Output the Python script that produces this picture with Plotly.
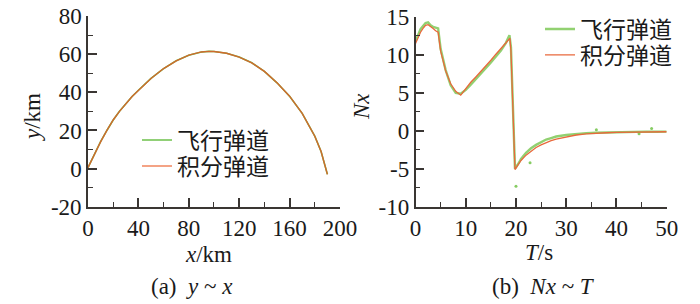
import plotly.graph_objects as go

# ---------- Panel (a): y ~ x ----------
x_km = [0, 5, 10, 15, 20, 25, 30, 35, 40, 45, 50, 60, 70, 80, 90, 96, 100, 110, 120, 130, 140, 150, 160, 170, 180, 185, 190]
y_int = [0.5, 7.5, 14.0, 20.0, 25.5, 30.0, 34.0, 37.8, 41.0, 44.3, 47.3, 52.5, 56.5, 59.5, 61.2, 61.5, 61.4, 60.5, 58.5, 55.5, 51.0, 45.0, 38.0, 29.0, 17.0, 9.0, -3.0]
y_fly = [0.5, 7.6, 14.1, 20.0, 25.5, 30.1, 34.0, 37.8, 41.1, 44.3, 47.3, 52.5, 56.6, 59.5, 61.2, 61.5, 61.4, 60.5, 58.5, 55.5, 51.0, 45.0, 38.0, 29.0, 17.0, 9.0, -3.0]
xa_ticks = [0, 40, 80, 120, 160, 200]
ya_ticks = [-20, 0, 20, 40, 60, 80]
ya_labels = ["-20", "0", "20", "40", "60", "80"]

# ---------- Panel (b): Nx ~ T ----------
t_int = [0, 0.5, 1, 1.5, 2, 2.5, 3, 3.5, 4, 4.5, 5, 5.5, 6, 7, 8, 9, 10, 11, 12, 13, 14, 15, 16, 17, 18, 18.8, 19.0, 19.4, 19.8,
         20.5, 21, 22, 23, 24, 25, 26, 27, 28, 30, 32, 34, 36, 38, 40, 42, 44, 46, 48, 50]
nx_int = [11.5, 12.3, 13.0, 13.5, 13.9, 14.0, 13.8, 13.5, 13.2, 13.0, 10.5, 9.0, 7.9, 6.2, 5.2, 4.7, 5.6, 6.4, 7.1, 7.8, 8.5, 9.3, 10.1, 10.9, 11.7, 12.2, 10.5, 3.0, -5.1,
          -4.4, -3.9, -3.2, -2.7, -2.2, -1.85, -1.55, -1.3, -1.1, -0.8, -0.55, -0.4, -0.3, -0.25, -0.2, -0.17, -0.15, -0.13, -0.12, -0.12]
t_fly = [0, 0.5, 1, 1.5, 2, 2.5, 3, 3.5, 4, 4.5, 5, 5.5, 6, 7, 8, 9, 10, 11, 12, 13, 14, 15, 16, 17, 18, 18.7, 19.0, 19.4, 19.8,
         20.5, 21, 22, 23, 24, 25, 26, 27, 28, 30, 32, 34, 36, 38, 40, 42, 44, 46, 48, 50]
nx_fly = [11.8, 12.6, 13.4, 13.8, 14.2, 14.3, 13.9, 13.7, 13.6, 13.5, 10.8, 9.3, 8.0, 6.0, 5.0, 4.9, 5.4, 6.1, 6.8, 7.5, 8.2, 9.0, 9.8, 10.6, 11.6, 12.6, 11.0, 3.5, -5.0,
          -4.3, -3.7, -2.9, -2.3, -1.85, -1.45, -1.15, -0.95, -0.75, -0.55, -0.4, -0.3, -0.25, -0.2, -0.18, -0.15, -0.12, -0.1, -0.12, -0.1]
t_out = [20.0, 22.8, 36.0, 44.5, 47.0]
nx_out = [-7.3, -4.2, 0.15, -0.4, 0.3]
xb_ticks = [0, 10, 20, 30, 40, 50]
yb_ticks = [-10, -5, 0, 5, 10, 15]
yb_labels = ["-10", "-5", "0", "5", "10", "15"]

labels = ["飞行弹道", "积分弹道"]

GREEN = "#6cc04a"
RED = "#e8693c"
AX = "#3a3633"
SERIF = "Liberation Serif, Times New Roman, serif"
CJK = "Noto Sans CJK SC"

fig = go.Figure()
fig.add_trace(go.Scatter(x=x_km, y=y_fly, mode="lines", line=dict(color=GREEN, width=1.6),
                         name=labels[0], xaxis="x", yaxis="y", legend="legend"))
fig.add_trace(go.Scatter(x=x_km, y=y_int, mode="lines", line=dict(color="#d0692e", width=1.4),
                         name=labels[1], xaxis="x", yaxis="y", showlegend=False))
fig.add_trace(go.Scatter(x=[None], y=[None], mode="lines", line=dict(color="#f0845c", width=1.4),
                         name=labels[1], xaxis="x", yaxis="y", legend="legend2"))

fig.add_trace(go.Scatter(x=t_fly, y=nx_fly, mode="lines", line=dict(color="#86cc62", width=2.4),
                         name=labels[0], xaxis="x2", yaxis="y2", legend="legend3", opacity=0.9))
fig.add_trace(go.Scatter(x=t_out, y=nx_out, mode="markers", marker=dict(color="#86cc62", size=3),
                         showlegend=False, xaxis="x2", yaxis="y2"))
fig.add_trace(go.Scatter(x=t_int, y=nx_int, mode="lines", line=dict(color=RED, width=1.3),
                         name=labels[1], xaxis="x2", yaxis="y2", legend="legend4"))

axis_common = dict(showline=True, linecolor=AX, linewidth=1.5, ticks="inside", ticklen=9,
                   tickwidth=1.5, tickcolor=AX, showgrid=False, zeroline=False,
                   tickfont=dict(family=SERIF, size=23, color="#1a1a1a"), mirror=False)


def leg(xpx, ypx):
    return dict(x=xpx / 700, y=1 - ypx / 304, xanchor="left", yanchor="middle", bgcolor="rgba(0,0,0,0)",
                font=dict(family=CJK, size=23, color="#1a1a1a"), itemwidth=30, borderwidth=0)


fig.update_layout(
    width=700, height=304, margin=dict(l=0, r=0, t=0, b=0, autoexpand=False),
    paper_bgcolor="white", plot_bgcolor="white",
    xaxis=dict(domain=[0.1257, 0.4857], range=[0, 200], tickvals=xa_ticks, anchor="y",
               minor=dict(ticks="inside", ticklen=5, dtick=20, tickcolor=AX, tickwidth=1.2), **axis_common),
    yaxis=dict(domain=[0.32, 0.947], range=[-20, 80], tickvals=ya_ticks, ticktext=ya_labels, anchor="x",
               minor=dict(ticks="inside", ticklen=5, dtick=10, tickcolor=AX, tickwidth=1.2), **axis_common),
    xaxis2=dict(domain=[0.5936, 0.9524], range=[0, 50], tickvals=xb_ticks, anchor="y2",
                minor=dict(ticks="inside", ticklen=5, dtick=5, tickcolor=AX, tickwidth=1.2), **axis_common),
    yaxis2=dict(domain=[0.32, 0.944], range=[-10, 15], tickvals=yb_ticks, ticktext=yb_labels, anchor="x2",
                minor=dict(ticks="inside", ticklen=5, dtick=2.5, tickcolor=AX, tickwidth=1.2), **axis_common),
    legend=leg(137, 140),
    legend2=leg(137, 166),
    legend3=leg(540, 29),
    legend4=leg(540, 55),
)

ann_font = dict(family=SERIF, size=23, color="#1a1a1a")
anns = [
    dict(text="<i>y</i>/km", x=32, y=117, textangle=-90),
    dict(text="<i>x</i>/km", x=208, y=254, textangle=0),
    dict(text="(a)  <i>y</i> ~ <i>x</i>", x=192, y=286, textangle=0),
    dict(text="<i>Nx</i>", x=361, y=107, textangle=-90),
    dict(text="<i>T</i>/s", x=539, y=252, textangle=0),
    dict(text="(b)  <i>Nx</i> ~ <i>T</i>", x=543, y=286, textangle=0),
]
for a in anns:
    fig.add_annotation(text=a["text"], x=a["x"] / 700, y=1 - a["y"] / 304, xref="paper", yref="paper",
                       showarrow=False, textangle=a["textangle"], font=ann_font,
                       xanchor="center", yanchor="middle")

fig.write_html("out.html", config={"displayModeBar": False},
               post_script="document.body.style.margin='0';document.body.style.overflow='hidden';")
